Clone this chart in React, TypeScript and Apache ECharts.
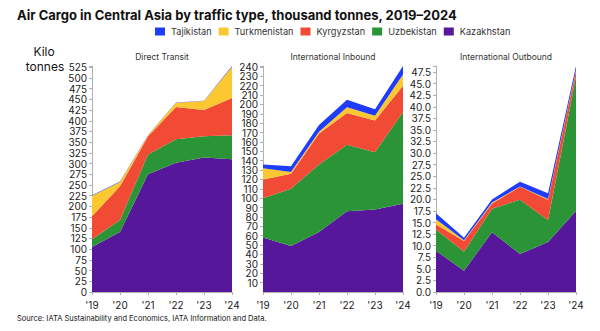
import React, { useEffect, useRef } from "react";
import * as echarts from "echarts";

const years = ["'19", "'20", "'21", "'22", "'23", "'24"];
const countries = ["Kazakhstan", "Uzbekistan", "Kyrgyzstan", "Turkmenistan", "Tajikistan"];
const legendOrder = ["Tajikistan", "Turkmenistan", "Kyrgyzstan", "Uzbekistan", "Kazakhstan"];
const colors: Record<string, string> = {
  Kazakhstan: "#56179b",
  Uzbekistan: "#2a9437",
  Kyrgyzstan: "#f14b35",
  Turkmenistan: "#fcc832",
  Tajikistan: "#1f3cfa",
};

const panelTitles = ["Direct Transit", "International Inbound", "International Outbound"];

// Direct Transit
const transitKazakhstan = [105, 140, 275, 302, 314, 310];
const transitUzbekistan = [18, 28, 46, 55, 50, 56];
const transitKyrgyzstan = [54, 79, 43, 75, 61, 87];
const transitTurkmenistan = [48, 10, 2, 10, 21, 73];
const transitTajikistan = [1, 1, 1, 1, 1, 2];

// International Inbound
const inboundKazakhstan = [58, 49, 64, 86, 88, 94];
const inboundUzbekistan = [42, 61, 72, 71, 61, 98];
const inboundKyrgyzstan = [20, 16, 33, 34, 34, 28];
const inboundTurkmenistan = [12, 2, 2, 6, 5, 12];
const inboundTajikistan = [4, 6, 7, 8, 7, 9];

// International Outbound
const outboundKazakhstan = [8.9, 4.6, 12.9, 8.2, 10.8, 17.5];
const outboundUzbekistan = [4.6, 4.1, 5.1, 11.7, 4.7, 29.0];
const outboundKyrgyzstan = [1.1, 2.3, 1.1, 2.8, 4.4, 1.3];
const outboundTurkmenistan = [1.1, 0.2, 0.2, 0.1, 0.2, 0.2];
const outboundTajikistan = [1.3, 0.5, 0.7, 1.0, 1.2, 0.8];

const tickIntervals = [25, 10, 2.5];
const tickDecimals = [0, 0, 1];

const panels = [
  [transitKazakhstan, transitUzbekistan, transitKyrgyzstan, transitTurkmenistan, transitTajikistan],
  [inboundKazakhstan, inboundUzbekistan, inboundKyrgyzstan, inboundTurkmenistan, inboundTajikistan],
  [outboundKazakhstan, outboundUzbekistan, outboundKyrgyzstan, outboundTurkmenistan, outboundTajikistan],
];

const FONT = "Inter";

export default function App() {
  const ref = useRef<HTMLDivElement>(null);
  useEffect(() => {
    if (!ref.current) return;
    const chart = echarts.init(ref.current, undefined, { renderer: "svg" });
    const gridLefts = [92, 263, 436];
    const plotWidth = 140;
    const grids = gridLefts.map((l) => ({
      left: l,
      width: plotWidth,
      top: 66,
      bottom: 39,
      containLabel: false,
    }));
    const xAxes = panels.map((_, i) => ({
      type: "category",
      gridIndex: i,
      data: years,
      boundaryGap: false,
      axisLine: { lineStyle: { color: "#b0b0b0", width: 1 } },
      axisTick: { show: true, length: 3, alignWithLabel: true, lineStyle: { color: "#b0b0b0" } },
      axisLabel: { fontFamily: FONT, fontSize: 10, color: "#222", margin: 8, interval: 0 },
    }));
    const yAxes = panels.map((p, i) => {
      const sums = years.map((_, k) => p.reduce((s, arr) => s + arr[k], 0));
      const mx = Math.round(Math.max(...sums) * 10) / 10;
      const iv = tickIntervals[i];
      return {
        type: "value",
        gridIndex: i,
        min: 0,
        max: mx,
        interval: iv,
        splitLine: { show: false },
        axisLine: { show: true, lineStyle: { color: "#b0b0b0", width: 1 } },
        axisTick: { show: true, length: 3, lineStyle: { color: "#b0b0b0" } },
        axisLabel: {
          fontFamily: FONT,
          fontSize: 10,
          lineHeight: 9,
          color: "#222",
          margin: 5,
          formatter: (v: number) => {
            const r = v / iv;
            if (Math.abs(r - Math.round(r)) > 1e-6) return "";
            return v.toFixed(tickDecimals[i]);
          },
        },
      };
    });
    const series: any[] = [];
    panels.forEach((p, i) => {
      p.forEach((arr, j) => {
        const name = countries[j];
        series.push({
          type: "line",
          name,
          xAxisIndex: i,
          yAxisIndex: i,
          stack: "panel" + i,
          data: arr,
          symbol: "none",
          showSymbol: false,
          lineStyle: { width: 0, color: colors[name] },
          itemStyle: { color: colors[name] },
          areaStyle: { color: colors[name], opacity: 1 },
          emphasis: { disabled: true },
        });
      });
    });
    const graphics: any[] = panelTitles.map((t, i) => ({
      type: "text",
      x: gridLefts[i] + plotWidth / 2,
      y: 57,
      style: {
        text: t,
        fontFamily: FONT,
        fontSize: 8.5,
        fill: "#333",
        textAlign: "center",
        textVerticalAlign: "middle",
      },
    }));
    graphics.push(
      {
        type: "text",
        x: 44,
        y: 51,
        style: { text: "Kilo", fontFamily: FONT, fontSize: 12, fill: "#111", textAlign: "center", textVerticalAlign: "middle" },
      },
      {
        type: "text",
        x: 45,
        y: 66,
        style: { text: "tonnes", fontFamily: FONT, fontSize: 12, fill: "#111", textAlign: "center", textVerticalAlign: "middle" },
      },
      {
        type: "text",
        x: 17,
        y: 318,
        style: {
          text: "Source: IATA Sustainability and Economics, IATA Information and Data.",
          fontFamily: FONT,
          fontSize: 7.5,
          fill: "#111",
          textAlign: "left",
          textVerticalAlign: "middle",
        },
      }
    );
    chart.setOption({
      animation: false,
      title: {
        text: "Air Cargo in Central Asia by traffic type, thousand tonnes, 2019–2024",
        left: 17,
        top: 8,
        padding: 0,
        textStyle: { fontFamily: FONT, fontSize: 13, fontWeight: "bold", color: "#111" },
      },
      legend: {
        data: legendOrder,
        left: 155,
        top: 27,
        padding: 0,
        itemWidth: 10,
        itemHeight: 8,
        itemGap: 7,
        icon: "rect",
        selectedMode: false,
        textStyle: { fontFamily: FONT, fontSize: 9.2, color: "#333", padding: [0, 0, 0, 1] },
      },
      grid: grids,
      xAxis: xAxes,
      yAxis: yAxes,
      series,
      graphic: graphics,
    });
    return () => chart.dispose();
  }, []);
  return (
    <div
      ref={ref}
      style={{ position: "fixed", left: 0, top: 0, width: 600, height: 331, background: "#fff" }}
    />
  );
}
